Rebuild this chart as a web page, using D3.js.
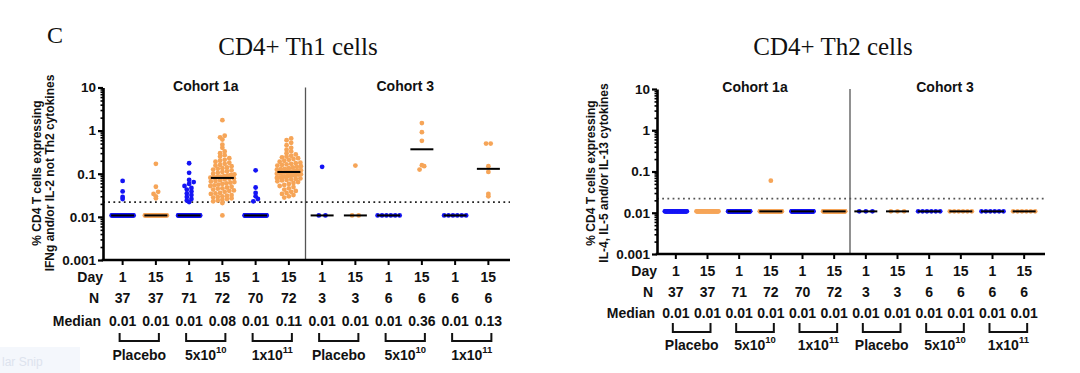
<!DOCTYPE html>
<html>
<head>
<meta charset="utf-8">
<script src="https://cdn.jsdelivr.net/npm/d3@7"></script>
<style>
  body { margin: 0; background: #fff; }
  svg { display: block; }
  text { font-family: "Liberation Sans", Arial, sans-serif; font-weight: bold; fill: #111; }
</style>
</head>
<body>
<div id="chart-area"></div>
<script>
// ---- values ----
var days = ["1","15","1","15","1","15","1","15","1","15","1","15"];
var nCounts = [37,37,71,72,70,72,3,3,6,6,6,6];
var cohorts = ["Cohort 1a","Cohort 3"];
var doseBase = ["Placebo","5x10","1x10","Placebo","5x10","1x10"];
var doseExp  = ["","10","11","","10","11"];
var th1Medians = ["0.01","0.01","0.01","0.08","0.01","0.11","0.01","0.01","0.01","0.36","0.01","0.13"];
var th2Medians = ["0.01","0.01","0.01","0.01","0.01","0.01","0.01","0.01","0.01","0.01","0.01","0.01"];
var yTicks = [0.001, 0.01, 0.1, 1, 10];
var yTickLabels = ["0.001","0.01","0.1","1","10"];
var lowerLimit = 0.0108;   // samples below detection are plotted here
var cutoff = 0.022;        // dotted positivity line

// points above the detection limit, one list per group
var th1Above = [
  [0.068, 0.039, 0.029, 0.026],
  [0.17, 0.05, 0.038, 0.034, 0.030, 0.027],
  [0.175, 0.105, 0.072, 0.064, 0.058, 0.052, 0.047, 0.043, 0.039, 0.035, 0.032, 0.029, 0.026, 0.024, 0.022],
  [1.75, 0.76, 0.70, 0.62, 0.47, 0.40, 0.33, 0.30, 0.27, 0.25, 0.23, 0.21, 0.20, 0.19, 0.18, 0.17, 0.16, 0.155,
   0.15, 0.14, 0.135, 0.13, 0.125, 0.12, 0.115, 0.11, 0.105, 0.10, 0.097, 0.094, 0.091, 0.088, 0.086, 0.084,
   0.082, 0.081, 0.079, 0.077, 0.074, 0.071, 0.068, 0.066, 0.064, 0.062, 0.060, 0.058, 0.056, 0.054, 0.052,
   0.050, 0.048, 0.046, 0.045, 0.043, 0.041, 0.040, 0.038, 0.036, 0.035, 0.034, 0.032, 0.031, 0.030, 0.029,
   0.028, 0.027, 0.026, 0.025, 0.024, 0.023, 0.021],
  [0.12, 0.048, 0.036, 0.030, 0.026, 0.023],
  [0.66, 0.60, 0.52, 0.46, 0.40, 0.36, 0.33, 0.30, 0.28, 0.26, 0.25, 0.24, 0.23, 0.22, 0.21, 0.20, 0.19, 0.18,
   0.175, 0.17, 0.165, 0.16, 0.155, 0.15, 0.145, 0.14, 0.135, 0.13, 0.127, 0.124, 0.121, 0.118, 0.116, 0.114,
   0.112, 0.111, 0.109, 0.107, 0.105, 0.103, 0.10, 0.098, 0.096, 0.094, 0.092, 0.09, 0.088, 0.086, 0.084, 0.082,
   0.08, 0.078, 0.076, 0.074, 0.072, 0.07, 0.067, 0.064, 0.061, 0.058, 0.055, 0.052, 0.049, 0.046, 0.043, 0.040,
   0.038, 0.036, 0.034, 0.032, 0.030, 0.028],
  [0.145],
  [0.155],
  [],
  [1.5, 0.92, 0.58, 0.158, 0.15, 0.125],
  [],
  [0.5, 0.5, 0.15, 0.11, 0.034, 0.030]
];
var th1AtLimit = [33,31,56,1,64,0,2,2,6,0,6,0];

var th2Above = [[],[],[],[0.06],[],[],[],[],[],[],[],[]];
var th2AtLimit = [37,37,71,71,70,72,3,3,6,6,6,6];

var blue = "#1414f5", orange = "#f6a558";

var svg = d3.select("#chart-area")
  .append("svg")
    .attr("width", 1080)
    .attr("height", 373);

// snipping tool leftover in the corner
svg.append("rect").attr("x", 0).attr("y", 347).attr("width", 80).attr("height", 26).attr("fill", "#f4f7fc");
svg.append("text").attr("x", 2).attr("y", 366).style("font-weight", "normal").style("fill", "#dde3ee")
  .attr("font-size", "12px").text("lar Snip");

svg.append("text")
  .attr("x", 47).attr("y", 43)
  .style("font-family", "'Liberation Serif', 'Times New Roman', serif").style("font-weight", "normal")
  .attr("font-size", "24px")
  .text("C");

// GraphPad-like scatter: points falling in the same small y-bin sit side by side
function swarm(vals, y, cx) {
  var out = [];
  var limitVals = vals.filter(function(v) { return v === lowerLimit; });
  var n = limitVals.length;
  var hw = Math.min(11, (n - 1) * 3.3);
  limitVals.forEach(function(v, i) {
    out.push({v: v, x: n > 1 ? cx - hw + 2 * hw * i / (n - 1) : cx, y: y(v)});
  });
  var bins = d3.group(vals.filter(function(v) { return v !== lowerLimit; }),
    function(v) { return Math.round(y(v) / 4); });
  bins.forEach(function(list) {
    list.sort(function(a, b) { return a - b; });
    var m = list.length;
    var step = m > 1 ? Math.min(4.6, 24 / (m - 1)) : 0;
    list.forEach(function(v, j) {
      out.push({v: v, x: cx + (j - (m - 1) / 2) * step, y: y(v)});
    });
  });
  return out;
}

function drawPanel(cfg, above, atLimit, medians) {
  var y = d3.scaleLog().domain([0.001, 10]).range([cfg.yBot, cfg.yTop]);
  var x = d3.scaleBand().domain(d3.range(12)).range(cfg.band);
  var bw = x.bandwidth();
  var g = svg.append("g");

  // title
  g.append("text")
    .attr("x", cfg.titleX).attr("y", 55)
    .attr("text-anchor", "middle")
    .style("font-family", "'Liberation Serif', 'Times New Roman', serif").style("font-weight", "normal")
    .attr("font-size", "25px")
    .text(cfg.title);

  // y label, two lines
  cfg.yTitle.forEach(function(t, i) {
    g.append("text")
      .attr("transform", "translate(" + cfg.yTitleX[i] + ",173) rotate(-90)")
      .attr("text-anchor", "middle")
      .attr("dy", "0.35em")
      .attr("font-size", "12px")
      .text(t);
  });

  // cohort labels + separator
  cohorts.forEach(function(c, i) {
    g.append("text")
      .attr("x", (x(i * 6) + x(i * 6 + 5) + bw) / 2)
      .attr("y", cfg.yTop + 3)
      .attr("text-anchor", "middle")
      .attr("font-size", "14px")
      .text(c);
  });
  g.append("line")
    .attr("x1", x(6)).attr("x2", x(6))
    .attr("y1", cfg.yTop).attr("y2", cfg.yBot)
    .attr("stroke", "#555").attr("stroke-width", 1.3);

  // dotted cutoff
  g.append("line")
    .attr("x1", cfg.axisX).attr("x2", cfg.xEnd)
    .attr("y1", y(cutoff)).attr("y2", y(cutoff))
    .attr("stroke", cfg.dotColor).attr("stroke-width", 1.6)
    .attr("stroke-dasharray", "1.8,3.4");

  // points
  above.forEach(function(vals, i) {
    var all = vals.slice();
    for (var k = 0; k < atLimit[i]; k++) all.push(lowerLimit);
    var cx = x(i) + bw / 2;
    var med = d3.median(all);
    var medLine = function() {
      g.append("line")
        .attr("x1", cx - 11.5).attr("x2", cx + 11.5)
        .attr("y1", y(med)).attr("y2", y(med))
        .attr("stroke", "#000").attr("stroke-width", 2);
    };
    // in the Th2 panel the first two floor rows cover their median bar
    if (cfg.lineUnder && i < 2) medLine();
    g.selectAll(null)
      .data(swarm(all, y, cx))
      .enter().append("circle")
        .attr("cx", function(d) { return d.x; })
        .attr("cy", function(d) { return d.y; })
        .attr("r", 2.4)
        .attr("fill", i % 2 === 0 ? blue : orange);
    if (!(cfg.lineUnder && i < 2)) medLine();
  });

  // y axis, log with minor ticks
  var minor = [];
  [0.001, 0.01, 0.1, 1].forEach(function(d) {
    for (var m = 2; m <= 9; m++) minor.push(d * m);
  });
  g.append("g")
    .attr("transform", "translate(" + cfg.axisX + ",0)")
    .call(d3.axisLeft(y).tickValues(minor).tickSize(2.5).tickSizeOuter(0).tickFormat(""))
    .call(function(a) {
      a.select(".domain").remove();
      a.selectAll("line").attr("stroke-width", 1.6);
    });
  g.append("g")
    .attr("transform", "translate(" + cfg.axisX + ",0)")
    .call(d3.axisLeft(y).tickValues(yTicks).tickSize(5).tickSizeOuter(0).tickPadding(2)
      .tickFormat(function(d, i) { return yTickLabels[i]; }))
    .call(function(a) {
      a.select(".domain").attr("stroke-width", 2.6);
      a.selectAll("line").attr("stroke-width", 2.2);
      a.selectAll("text").attr("font-size", "13.5px")
        .style("font-family", "'Liberation Sans', Arial, sans-serif").style("font-weight", "bold");
    });

  // x axis
  g.append("g")
    .attr("transform", "translate(0," + cfg.yBot + ")")
    .call(d3.axisBottom(x).tickSize(5).tickFormat(""))
    .call(function(a) {
      a.select(".domain").remove();
      a.selectAll("line").attr("stroke-width", 2);
    });
  g.append("line")
    .attr("x1", cfg.axisX - 1.3).attr("x2", cfg.xEnd)
    .attr("y1", cfg.yBot).attr("y2", cfg.yBot)
    .attr("stroke", "#000").attr("stroke-width", 2.6);

  // table under the axis
  var rows = [
    {label: "Day", vals: days, dx: 0},
    {label: "N", vals: nCounts, dx: -4},
    {label: "Median", vals: medians, dx: -2}
  ];
  rows.forEach(function(r, ri) {
    var yy = cfg.yBot + cfg.rowOff[ri];
    g.append("text")
      .attr("x", cfg.axisX + r.dx).attr("y", yy)
      .attr("text-anchor", "end")
      .attr("font-size", "14px")
      .text(r.label);
    g.selectAll(null)
      .data(r.vals)
      .enter().append("text")
        .attr("x", function(d, i) { return x(i) + bw / 2; })
        .attr("y", yy)
        .attr("text-anchor", "middle")
        .attr("font-size", "14px")
        .text(function(d) { return d; });
  });

  // dose brackets
  doseBase.forEach(function(b, k) {
    var x1 = x(2 * k) + bw / 2 - 3, x2 = x(2 * k + 1) + bw / 2 + 3;
    var t = cfg.yBot + cfg.bracket[0], bt = cfg.yBot + cfg.bracket[1];
    g.append("path")
      .attr("d", "M" + x1 + "," + t + "V" + bt + "H" + x2 + "V" + t)
      .attr("fill", "none").attr("stroke", "#111").attr("stroke-width", 2);
    var lab = g.append("text")
      .attr("x", (x1 + x2) / 2).attr("y", cfg.yBot + cfg.doseOff)
      .attr("text-anchor", "middle")
      .attr("font-size", "14px");
    lab.append("tspan").text(b);
    if (doseExp[k]) {
      lab.append("tspan").attr("dy", -7).attr("font-size", "9.5px").text(doseExp[k]);
    }
  });
}

drawPanel({
  title: "CD4+ Th1 cells", titleX: 298,
  yTitle: ["% CD4 T cells expressing", "IFNg and/or IL-2 not Th2 cytokines"], yTitleX: [37, 50],
  axisX: 103, yTop: 87.5, yBot: 260, band: [106, 505], xEnd: 510,
  rowOff: [22, 43, 66], bracket: [73, 81], doseOff: 100, dotColor: "#222", lineUnder: false
}, th1Above, th1AtLimit, th1Medians);

drawPanel({
  title: "CD4+ Th2 cells", titleX: 833,
  yTitle: ["% CD4 T cells expressing", "IL-4, IL-5 and/or IL-13 cytokines"], yTitleX: [591, 604],
  axisX: 657, yTop: 89, yBot: 254, band: [660, 1040], xEnd: 1045,
  rowOff: [22, 43, 64], bracket: [69, 78], doseOff: 96, dotColor: "#555", lineUnder: true
}, th2Above, th2AtLimit, th2Medians);
</script>
</body>
</html>
